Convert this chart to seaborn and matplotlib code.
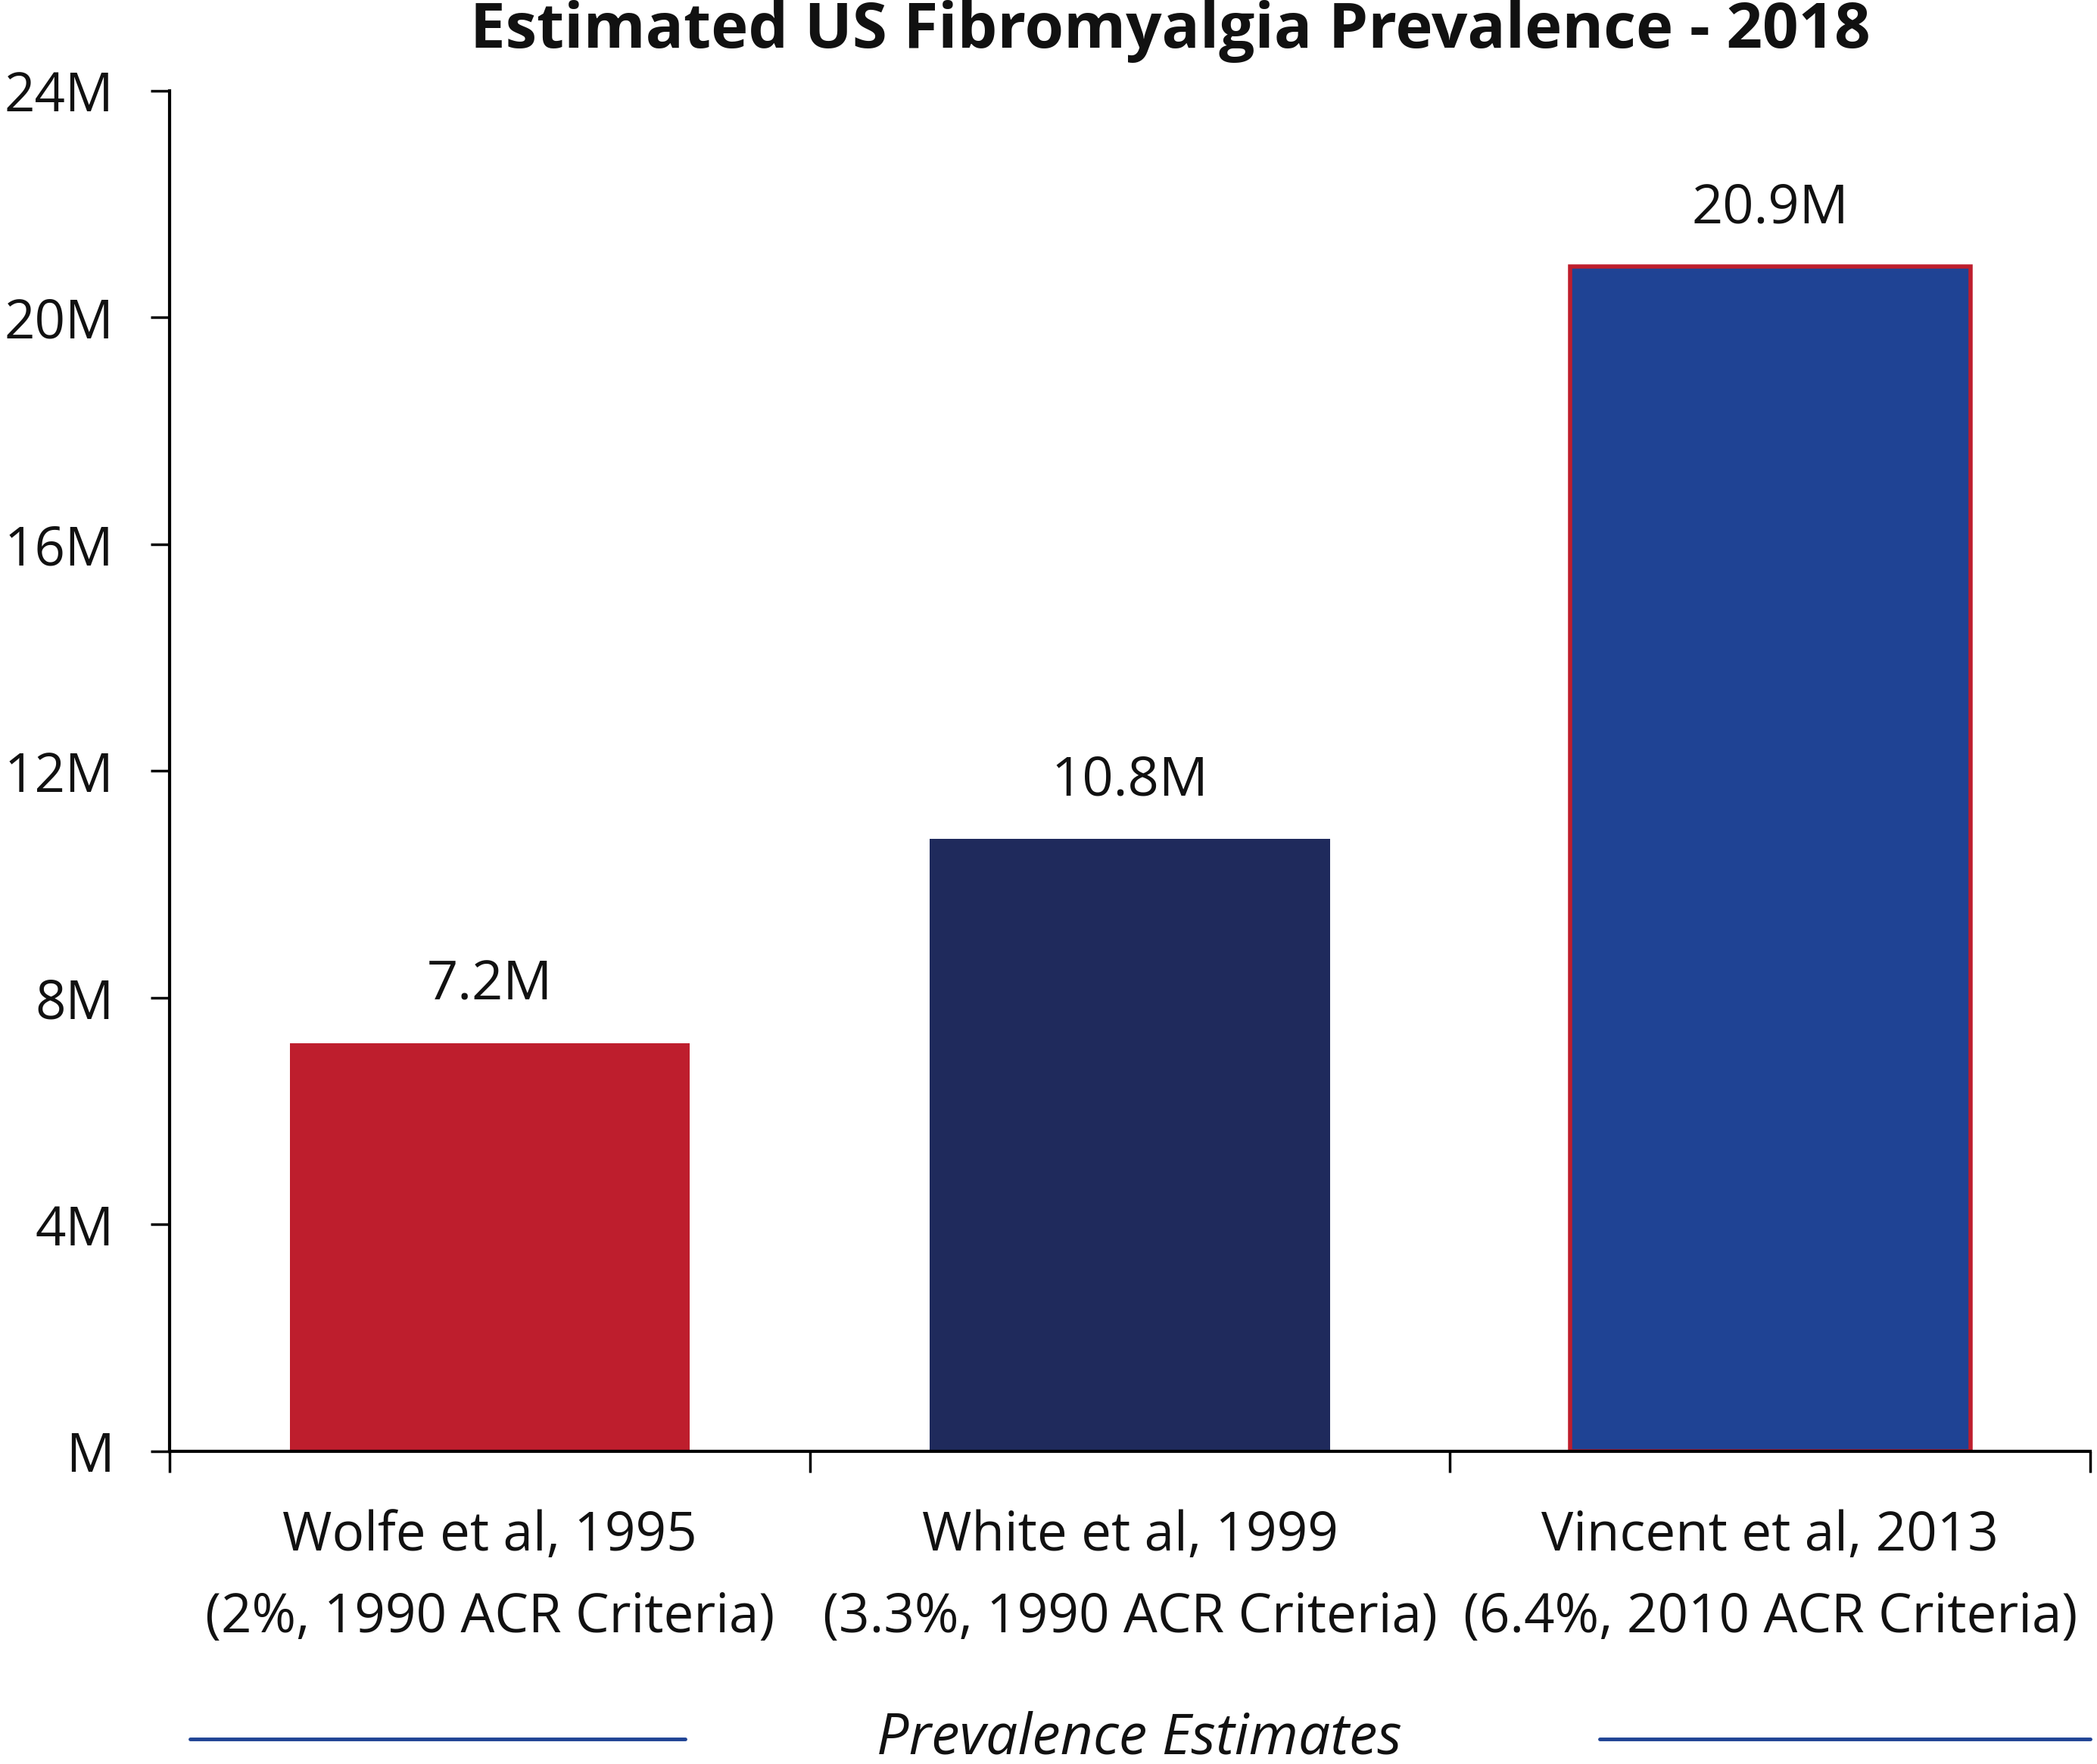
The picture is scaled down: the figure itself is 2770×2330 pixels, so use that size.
import matplotlib
matplotlib.use("Agg")
import matplotlib.pyplot as plt
import seaborn as sns
import pandas as pd

categories = ["Wolfe et al, 1995\n(2%, 1990 ACR Criteria)",
              "White et al, 1999\n(3.3%, 1990 ACR Criteria)",
              "Vincent et al, 2013\n(6.4%, 2010 ACR Criteria)"]
values = [7.2, 10.8, 20.9]
value_labels = ["7.2M", "10.8M", "20.9M"]
colors = ["#BE1E2D", "#1F2A5C", "#1F4394"]
yticks = [0, 4, 8, 12, 16, 20, 24]
ytick_labels = ["M", "4M", "8M", "12M", "16M", "20M", "24M"]
title = "Estimated US Fibromyalgia Prevalence - 2018"
xlabel = "Prevalence Estimates"

sns.set_theme(style="white")
plt.rcParams['font.family'] = ['Open Sans', 'DejaVu Sans']

df = pd.DataFrame({"cat": categories, "val": values})

fig = plt.figure(figsize=(27.7, 23.3), dpi=100)
ax = fig.add_axes([0.0809, 0.1773, 0.9968 - 0.0809, 0.9485 - 0.1773])
sns.barplot(data=df, x="cat", y="val", hue="cat", palette=colors, width=0.625,
            legend=False, ax=ax, saturation=1)

bars = ax.patches
for b in bars:
    b.set_linewidth(0)
bars[2].set_edgecolor("#BE1E2D")
bars[2].set_linewidth(4)

for i, (v, lab) in enumerate(zip(values, value_labels)):
    ax.annotate(lab, (i, v), xytext=(0, 55), textcoords="offset points",
                ha="center", va="center", fontsize=52, color="#111111")

ax.set_xlim(-0.5, 2.5)
ax.set_ylim(0, 24)
ax.set_yticks(yticks)
ax.set_yticklabels(ytick_labels, fontsize=51, color="#111111")
ax.set_xticks([0, 1, 2])
ax.set_xticklabels(categories, fontsize=51, color="#111111", linespacing=1.68)
ax.set_xticks([-0.5, 0.5, 1.5, 2.5], minor=True)
ax.tick_params(axis="x", which="major", length=0, pad=55)
ax.tick_params(axis="x", which="minor", length=20, width=2.5, color="black", direction="out", bottom=True)
ax.tick_params(axis="y", which="major", length=18, width=2.5, color="black", direction="out", left=True, pad=35)
ax.set_xlabel("")
ax.set_ylabel("")

for s in ["top", "right"]:
    ax.spines[s].set_visible(False)
for s in ["left", "bottom"]:
    ax.spines[s].set_color("black")
    ax.spines[s].set_linewidth(3)

fig.text(0.558, 0.982, title, ha="center", va="center", fontsize=60, fontweight="bold", color="#111111")
fig.text(0.5433, 0.0142, xlabel, ha="center", va="center", fontsize=54, style="italic", color="#111111")
fig.add_artist(plt.Line2D([251/2770, 905/2770], [1 - 2297/2330] * 2, color="#1F4394", linewidth=3.5))
fig.add_artist(plt.Line2D([2113/2770, 2761/2770], [1 - 2297/2330] * 2, color="#1F4394", linewidth=3.5))

fig.savefig("out.png", dpi=100, facecolor="white")
